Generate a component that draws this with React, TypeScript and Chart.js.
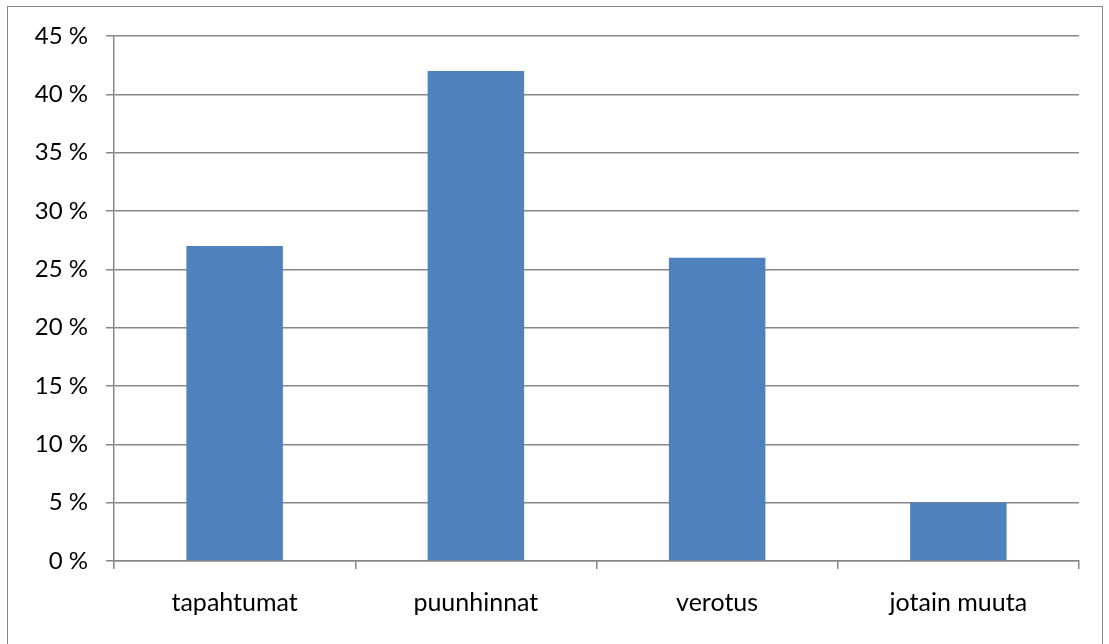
import React, { useEffect, useRef } from "react";
import { Chart, registerables } from "chart.js";

Chart.register(...registerables);

const categories = ["tapahtumat", "puunhinnat", "verotus", "jotain muuta"];
const values = [27, 42, 26, 5];
const yMin = 0;
const yMax = 45;
const yStep = 5;

const GRID = "#878787";
const BAR = "#4F81BD";
const FONT = "Lato, 'Noto Sans', sans-serif";

export default function App() {
  const ref = useRef<HTMLCanvasElement | null>(null);

  useEffect(() => {
    if (!ref.current) return;
    const chart = new Chart(ref.current, {
      type: "bar",
      data: {
        labels: categories,
        datasets: [
          {
            data: values,
            backgroundColor: BAR,
            borderWidth: 0,
            barPercentage: 0.4,
            categoryPercentage: 1,
          },
        ],
      },
      options: {
        animation: false,
        responsive: false,
        maintainAspectRatio: false,
        layout: { padding: { left: 0, top: 36, right: 30, bottom: 0 } },
        plugins: { legend: { display: false }, tooltip: { enabled: false } },
        scales: {
          x: {
            offset: true,
            grid: {
              offset: true,
              drawOnChartArea: false,
              drawTicks: true,
              tickLength: 8,
              color: GRID,
              lineWidth: 1.5,
            },
            border: { display: true, color: GRID, width: 1.5 },
            ticks: {
              color: "#000",
              padding: 19,
              font: { family: FONT, size: 25 },
              maxRotation: 0,
            },
            afterFit: (s: any) => {
              s.height = 644 - 561;
            },
          },
          y: {
            min: yMin,
            max: yMax,
            grid: {
              drawTicks: true,
              tickLength: 8,
              color: GRID,
              lineWidth: 1.5,
            },
            border: { display: true, color: GRID, width: 1.5 },
            ticks: {
              stepSize: yStep,
              color: "#000",
              padding: 18,
              font: { family: FONT, size: 24 },
              callback: (v: any) => `${v} %`,
            },
            afterFit: (s: any) => {
              s.width = 114;
            },
          },
        },
      },
    });
    return () => chart.destroy();
  }, []);

  return (
    <div
      style={{
        position: "absolute",
        left: 0,
        top: 0,
        width: 1109,
        height: 644,
        background: "#fff",
        overflow: "hidden",
      }}
    >
      <div
        style={{
          position: "absolute",
          left: 7,
          top: 6,
          width: 1096,
          height: 660,
          border: "1.5px solid #888",
          boxSizing: "border-box",
        }}
      />
      <canvas
        ref={ref}
        width={1109}
        height={644}
        style={{ position: "absolute", left: 0, top: 0, width: 1109, height: 644 }}
      />
    </div>
  );
}
